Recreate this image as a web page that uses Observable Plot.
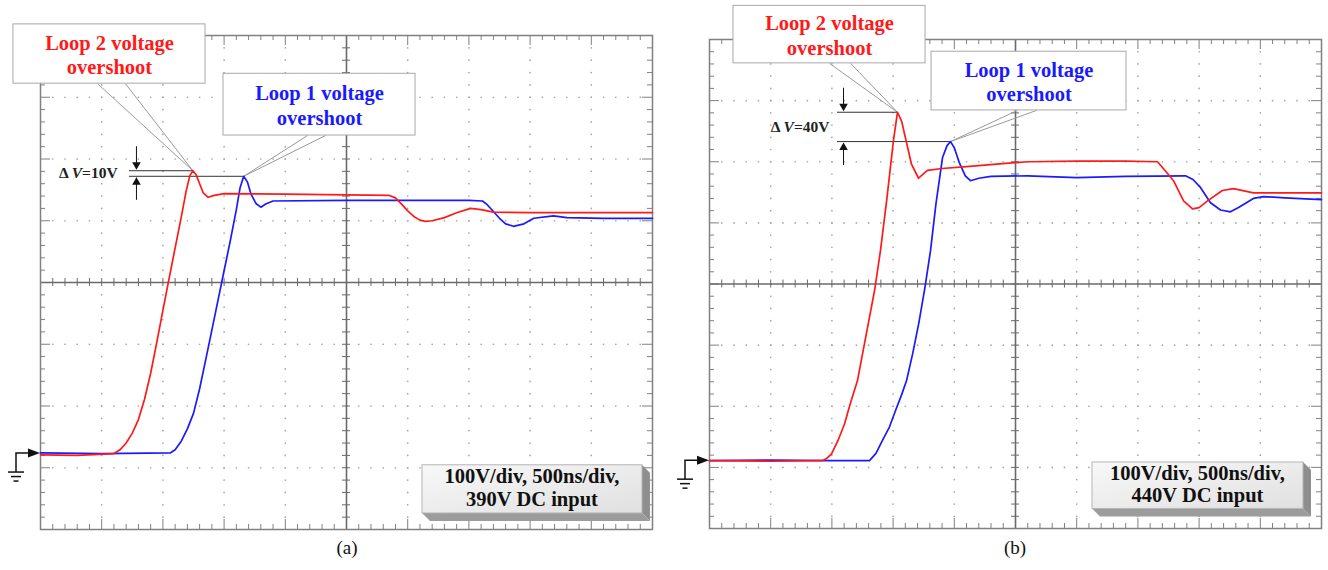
<!DOCTYPE html>
<html><head><meta charset="utf-8">
<script src="https://cdn.jsdelivr.net/npm/d3@7"></script>
<script src="https://cdn.jsdelivr.net/npm/@observablehq/plot@0.6"></script>
<style>
body{margin:0;background:#fff;width:1328px;height:570px;overflow:hidden;position:relative;font-family:"Liberation Serif","Times New Roman",serif}
.panel{position:absolute;top:0}
.cap{position:absolute;top:537px;font-size:19px;width:40px;text-align:center;color:#111;font-family:"Liberation Serif",serif}
</style></head><body>
<div id="pa" class="panel" style="left:0"></div>
<div id="pb" class="panel" style="left:664px"></div>
<div class="cap" style="left:327px">(a)</div>
<div class="cap" style="left:995px">(b)</div>
<script>
// ---- data: time (ns) and voltage (V, relative to the ground marker) ----
const timeA_loop2 = [0,300,600,650,700,750,800,850,900,950,1000,1050,1100,1150,1190,1220,1245,1270,1300,1330,1370,1420,1500,2000,2500,2850,2900,2950,3000,3050,3100,3145,3200,3300,3400,3513,3600,3700,4000,4500,5000];
const voltA_loop2 = [-2,-3,0,6,17,33,55,88,130,180,232,283,333,383,425,450,458,452,437,422,415,418,421,420,419,418,414,404,393,384,378,376,377,382,390,397,395,391,390,390,390];
const timeA_loop1 = [0,500,1060,1100,1150,1200,1250,1300,1350,1400,1450,1500,1550,1600,1630,1660,1690,1720,1760,1800,1840,1900,2500,3000,3500,3611,3650,3700,3750,3800,3864,3950,4030,4191,4300,4600,5000];
const voltA_loop1 = [1,0,1,6,20,40,65,105,152,200,248,296,344,395,430,449,440,420,405,399,404,409,410,410,410,409,403,392,381,372,368,372,381,385,382,381,381];
const timeB_loop2 = [0,500,923,960,997,1050,1103,1150,1209,1260,1300,1350,1397,1450,1503,1536,1570,1610,1650,1708,1740,1781,1900,2100,2394,2600,3000,3400,3660,3720,3791,3873,3946,4000,4069,4190,4281,4444,4700,5000];
const voltB_loop2 = [0,-1,0,4,11,33,60,93,131,185,227,280,344,430,524,570,555,520,485,462,468,475,478,481,486,489,490,490,489,475,458,425,412,414,425,442,445,438,438,438];
const timeB_loop1 = [0,500,1000,1307,1360,1413,1470,1520,1570,1610,1660,1710,1760,1806,1850,1904,1940,1969,2000,2040,2090,2132,2200,2300,2600,3000,3400,3889,3950,4011,4093,4175,4256,4322,4444,4526,4700,5000];
const voltB_loop1 = [0,1,0,0,12,33,55,82,108,131,175,225,283,344,420,496,515,522,512,488,466,458,462,465,466,463,465,466,460,447,422,410,407,414,429,432,430,427];

const seriesLabels = ["Loop 2 voltage\novershoot", "Loop 1 voltage\novershoot"];
const deltaLabels = ["10V", "40V"];
const infoLabelsA = ["100V/div, 500ns/div,", "390V DC input"];
const infoLabelsB = ["100V/div, 500ns/div,", "440V DC input"];

const RED = "#ff1a1a", BLUE = "#1a1aff";
const zip = (t, v) => t.map((d, i) => ({t: d, v: v[i]}));

function panel(cfg) {
  const W = 664, H = 570;
  const {mL, mR, mT, mB, yLo} = cfg;
  const yHi = yLo + 800, yc = yLo + 400;
  const kx = (W - mL - mR) / 5000, ky = (H - mT - mB) / 800;
  const red = zip(cfg.redT, cfg.redV), blue = zip(cfg.blueT, cfg.blueV);
  const pR = d3.greatest(red, d => d.v), pB = d3.greatest(blue, d => d.v);

  // graticule
  const dots = [];
  for (let i = 1; i < 10; i++) if (i !== 5) for (let v = yLo + 20; v < yHi; v += 20) dots.push({t: i * 500, v});
  for (let j = 1; j < 8; j++) if (j !== 4) for (let t = 100; t < 5000; t += 100) dots.push({t, v: yLo + j * 100});
  const tickX = [], tickY = [], cTickX = [], cTickY = [];
  for (let t = 100; t < 5000; t += 100) {
    const L = (t % 500 === 0 ? 10 : 5) / ky;
    tickX.push({t, y1: yLo, y2: yLo + L}, {t, y1: yHi, y2: yHi - L});
    cTickX.push({t, y1: yc - 4 / ky, y2: yc + 4 / ky});
  }
  for (let v = yLo + 20; v < yHi; v += 20) {
    const L = ((v - yLo) % 100 === 0 ? 10 : 5) / kx;
    tickY.push({v, x1: 0, x2: L}, {v, x1: 5000, x2: 5000 - L});
    cTickY.push({v, x1: 2500 - 4 / kx, x2: 2500 + 4 / kx});
  }

  const boxes = cfg.boxes.map((b, i) => ({...b, label: seriesLabels[i], peak: i === 0 ? pR : pB, color: i === 0 ? RED : BLUE}));
  const links = boxes.flatMap(b => [{x1: b.lx1, y1: b.v1, x2: b.peak.t, y2: b.peak.v}, {x1: b.lx2, y1: b.v1, x2: b.peak.t, y2: b.peak.v}]);
  const aLen = 22 / ky, gap = 2 / ky;
  const dv = cfg.dv;

  const svg = Plot.plot({
    width: W, height: H, marginLeft: mL, marginRight: mR, marginTop: mT, marginBottom: mB,
    x: {domain: [0, 5000], axis: null}, y: {domain: [yLo, yHi], axis: null},
    style: {background: "transparent", overflow: "visible", fontFamily: "Liberation Serif"},
    marks: [
      Plot.dot(dots, {x: "t", y: "v", r: 0.85, fill: "#a5a5a5"}),
      Plot.ruleX(tickX, {x: "t", y1: "y1", y2: "y2", stroke: "#808080", strokeWidth: 1}),
      Plot.ruleY(tickY, {y: "v", x1: "x1", x2: "x2", stroke: "#808080", strokeWidth: 1}),
      Plot.ruleX([2500], {stroke: "#6a6a6a", strokeWidth: 1.6}),
      Plot.ruleY([yc], {stroke: "#6a6a6a", strokeWidth: 1.6}),
      Plot.ruleX(cTickX, {x: "t", y1: "y1", y2: "y2", stroke: "#6a6a6a", strokeWidth: 1}),
      Plot.ruleY(cTickY, {y: "v", x1: "x1", x2: "x2", stroke: "#6a6a6a", strokeWidth: 1}),
      Plot.frame({stroke: "#808080", strokeWidth: 1.5}),
      Plot.link(links, {x1: "x1", y1: "y1", x2: "x2", y2: "y2", stroke: "#9a9a9a", strokeWidth: 1}),
      Plot.rect(boxes, {x1: "t1", x2: "t2", y1: "v1", y2: "v2", fill: "white", stroke: "#a8a8a8", strokeWidth: 1}),
      Plot.text(boxes, {x: d => (d.t1 + d.t2) / 2, y: d => (d.v1 + d.v2) / 2, text: "label", fill: "color", fontSize: 20.5, fontWeight: "bold", lineHeight: 1.2}),
      Plot.ruleY([pR], {y: "v", x1: dv.lineT, x2: "t", stroke: "#333", strokeWidth: 1}),
      Plot.ruleY([pB], {y: "v", x1: dv.lineT, x2: "t", stroke: "#333", strokeWidth: 1}),
      Plot.ruleX([dv.arrowT], {y1: pR.v + gap + aLen, y2: pR.v + gap, stroke: "#111", strokeWidth: 1}),
      Plot.ruleX([dv.arrowT], {y1: pB.v - gap - aLen, y2: pB.v - gap, stroke: "#111", strokeWidth: 1}),
      Plot.dot([dv.arrowT], {x: d => d, y: pR.v + gap + 4 / ky, symbol: "triangle", rotate: 180, r: 3.2, fill: "#111", stroke: "none"}),
      Plot.dot([dv.arrowT], {x: d => d, y: pB.v - gap - 4 / ky, symbol: "triangle", r: 3.2, fill: "#111", stroke: "none"}),
      Plot.text([cfg.dvLabel], {x: dv.textT, y: (pR.v + pB.v) / 2, text: d => "Δ V=" + d, textAnchor: "end", fontSize: 15.5, fontWeight: "bold", fill: "#222"}),
      Plot.line(blue, {x: "t", y: "v", stroke: BLUE, strokeWidth: 1.7}),
      Plot.line(red, {x: "t", y: "v", stroke: RED, strokeWidth: 1.7})
    ]
  });

  const sx = d3.scaleLinear([0, 5000], [mL, W - mR]);
  const sy = d3.scaleLinear([yLo, yHi], [H - mB, mT]);
  const g = d3.select(svg).append("g");
  d3.select(svg).selectAll("text").filter(function () { return this.textContent.startsWith("Δ"); })
    .html(d => "Δ <tspan font-style='italic'>V</tspan>=" + cfg.dvLabel);

  // ground marker
  const x0 = sx(0), y0 = sy(0);
  g.append("path").attr("d", `M${x0 - 24},${y0 + 19}V${y0}H${x0 - 9}`).attr("fill", "none").attr("stroke", "#111").attr("stroke-width", 1.5);
  g.append("path").attr("d", `M${x0 - 12},${y0 - 4.5}L${x0},${y0}L${x0 - 12},${y0 + 4.5}Z`).attr("fill", "#111");
  [[8, 19], [5, 23.5], [2.5, 28]].forEach(([w, dy]) =>
    g.append("line").attr("x1", x0 - 24 - w).attr("x2", x0 - 24 + w).attr("y1", y0 + dy).attr("y2", y0 + dy).attr("stroke", "#111").attr("stroke-width", 1.5));

  // info box with bevel
  const info = cfg.info;
  const bx1 = sx(info.t1), bx2 = sx(info.t2), by1 = sy(info.v2), by2 = sy(info.v1), d = 8;
  const gid = "grad" + cfg.id;
  const grad = d3.select(svg).append("defs").append("linearGradient").attr("id", gid).attr("x1", 0).attr("y1", 0).attr("x2", 1).attr("y2", 1);
  grad.append("stop").attr("offset", 0).attr("stop-color", "#f8f8f8");
  grad.append("stop").attr("offset", 1).attr("stop-color", "#e0e0e0");
  g.append("polygon").attr("points", `${bx2},${by1} ${bx2 + d},${by1 + d} ${bx2 + d},${by2 + d} ${bx2},${by2}`).attr("fill", "#8e8e8e");
  g.append("polygon").attr("points", `${bx1},${by2} ${bx2},${by2} ${bx2 + d},${by2 + d} ${bx1 + d},${by2 + d}`).attr("fill", "#9c9c9c");
  g.append("rect").attr("x", bx1).attr("y", by1).attr("width", bx2 - bx1).attr("height", by2 - by1).attr("fill", `url(#${gid})`).attr("stroke", "#b5b5b5");
  info.lines.forEach((s, i) => g.append("text").attr("x", (bx1 + bx2) / 2).attr("y", by1 + (by2 - by1) * (i === 0 ? 0.28 : 0.76))
    .attr("text-anchor", "middle").attr("dominant-baseline", "middle").attr("font-family", "Liberation Serif").attr("font-weight", "bold").attr("font-size", 20.5).attr("fill", "#111").text(s));

  document.getElementById(cfg.el).appendChild(svg);
}

panel({
  id: "A", el: "pa", mL: 40, mR: 12, mT: 35, mB: 41, yLo: -123,
  redT: timeA_loop2, redV: voltA_loop2, blueT: timeA_loop1, blueV: voltA_loop1,
  boxes: [{t1: -221, t2: 1348, v1: 599, v2: 695, lx1: 466, lx2: 694}, {t1: 1495, t2: 3064, v1: 515, v2: 615, lx1: 2181, lx2: 2328}],
  dv: {lineT: 727, arrowT: 784, textT: 630}, dvLabel: deltaLabels[0],
  info: {t1: 3121, t2: 4918, v1: -97, v2: -19, lines: infoLabelsA}
});
panel({
  id: "B", el: "pb", mL: 45, mR: 7, mT: 39, mB: 42, yLo: -111,
  redT: timeB_loop2, redV: voltB_loop2, blueT: timeB_loop1, blueV: voltB_loop1,
  boxes: [{t1: 196, t2: 1765, v1: 650, v2: 744, lx1: 980, lx2: 1152}, {t1: 1814, t2: 3407, v1: 573, v2: 669, lx1: 2516, lx2: 2672}],
  dv: {lineT: 1046, arrowT: 1095, textT: 980}, dvLabel: deltaLabels[1],
  info: {t1: 3129, t2: 4853, v1: -79, v2: -3, lines: infoLabelsB}
});
</script>
</body></html>
